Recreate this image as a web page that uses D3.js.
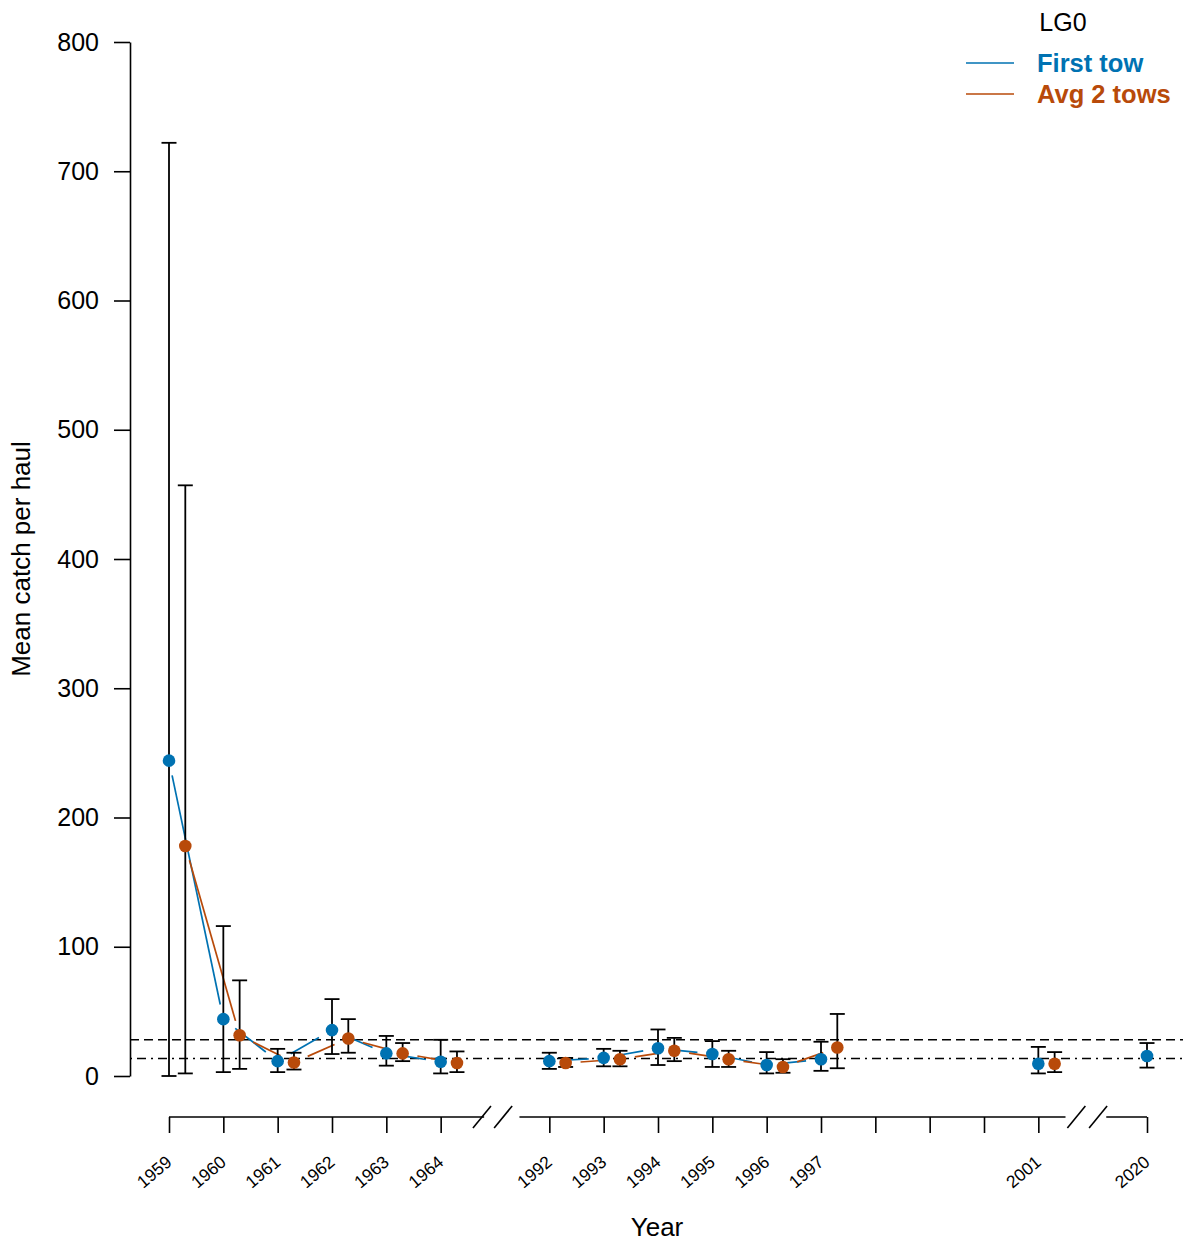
<!DOCTYPE html>
<html>
<head>
<meta charset="utf-8">
<script src="https://cdn.jsdelivr.net/npm/d3@7"></script>
<style>
  body { margin: 0; background: #fff; }
  svg text { font-family: Arial, "Liberation Sans", sans-serif; }
</style>
</head>
<body>
<div class="canvas"></div>
<script>
// data
const years = [1959, 1960, 1961, 1962, 1963, 1964, 1992, 1993, 1994, 1995, 1996, 1997, 2001, 2020];
// position of each year on the broken axis (0 = 1959)
const yearPos = [0, 1, 2, 3, 4, 5, 7, 8, 9, 10, 11, 12, 16, 18];
// groups of years joined by lines
const groups = [[0, 1, 2, 3, 4, 5], [6, 7, 8, 9, 10, 11], [12], [13]];

const firstTow   = [244, 44, 11.5, 35.5, 17.5, 11, 11.5, 14, 21.5, 17, 8.5, 13, 9.5, 15.5];
const firstTowLo = [0, 3, 3, 17, 8, 2, 5.5, 7.5, 8.5, 7, 2, 4, 2, 6.5];
const firstTowHi = [722, 116, 21, 59.5, 31, 28, 18, 21, 36, 27, 18.5, 26.5, 22.5, 25.5];

const avgTows   = [178, 31.5, 10.5, 29, 17.5, 10, 10, 13, 19.5, 13, 7, 22, 9.5, null];
const avgTowsLo = [2, 5.5, 5, 18, 11.5, 3, 7, 7.5, 11.5, 7, 2.5, 6, 3, null];
const avgTowsHi = [457, 74, 18, 44, 25.5, 19, 14, 19.5, 29.5, 19.5, 13, 48, 18.5, null];

const refLines = [28, 13.5];
const yTicks = [0, 100, 200, 300, 400, 500, 600, 700, 800];
// axis tick positions and labels (1998-2000 unlabeled)
const axisTicks = [0, 1, 2, 3, 4, 5, 7, 8, 9, 10, 11, 12, 13, 14, 15, 16, 18];
const axisLabels = ['1959', '1960', '1961', '1962', '1963', '1964', '1992', '1993', '1994', '1995', '1996', '1997', '', '', '', '2001', '2020'];

const blue = '#0072B2';
const orange = '#B84A0A';

const svg = d3.select('.canvas')
  .append('svg')
    .attr('width', 1183)
    .attr('height', 1243);

const x = d3.scaleLinear().domain([0, 18]).range([169, 1147]);
const y = d3.scaleLinear().domain([0, 800]).range([1076, 42]);

// y axis
const yAxis = svg.append('g')
  .attr('transform', 'translate(130,0)')
  .call(d3.axisLeft(y).tickValues(yTicks).tickSize(16).tickPadding(15).tickSizeOuter(0));
yAxis.select('.domain').attr('stroke-width', 1.6);
yAxis.selectAll('.tick line').attr('stroke-width', 1.6);
yAxis.selectAll('text').attr('font-size', 25).attr('fill', '#000');

svg.append('text')
  .attr('transform', `translate(30,${(y(0) + y(800)) / 2}) rotate(-90)`)
  .attr('text-anchor', 'middle')
  .attr('font-size', 26)
  .text('Mean catch per haul');

// x axis with breaks
const xAxis = svg.append('g')
  .attr('transform', 'translate(0,1117)')
  .call(d3.axisBottom(x).tickValues(axisTicks).tickSize(16).tickFormat('').tickSizeOuter(0));
xAxis.select('.domain').remove();
xAxis.selectAll('.tick line').attr('stroke-width', 1.6);

const segs = [[0, 5.8], [6.45, 16.5], [17.25, 18]];
svg.selectAll('.xseg')
  .data(segs)
  .enter().append('line')
    .attr('x1', d => x(d[0])).attr('x2', d => x(d[1]))
    .attr('y1', 1117).attr('y2', 1117)
    .attr('stroke', '#000').attr('stroke-width', 1.6);

// break marks
const breaks = [5.76, 6.15, 16.7, 17.1];
svg.selectAll('.brk')
  .data(breaks)
  .enter().append('line')
    .attr('x1', d => x(d) - 9).attr('x2', d => x(d) + 9)
    .attr('y1', 1128).attr('y2', 1106)
    .attr('stroke', '#000').attr('stroke-width', 1.6);

svg.selectAll('.xlab')
  .data(axisTicks)
  .enter().append('text')
    .attr('text-anchor', 'end')
    .attr('font-size', 17.5)
    .attr('transform', d => `translate(${x(d) + 4},${1164}) rotate(-40)`)
    .text((d, i) => axisLabels[i]);

svg.append('text')
  .attr('x', 657).attr('y', 1236)
  .attr('text-anchor', 'middle')
  .attr('font-size', 26)
  .text('Year');

// reference lines
svg.selectAll('.ref')
  .data(refLines)
  .enter().append('line')
    .attr('x1', 130).attr('x2', 1183)
    .attr('y1', d => y(d)).attr('y2', d => y(d))
    .attr('stroke', '#000').attr('stroke-width', 1.6)
    .attr('stroke-dasharray', (d, i) => i === 0 ? '9,5' : '2,5,9,5');

// lines with gaps around points (like type = "b")
const gap = 15;
function drawSeries(vals, offset, colour) {
  groups.forEach(g => {
    for (let k = 0; k < g.length - 1; k++) {
      const a = g[k], b = g[k + 1];
      if (vals[a] == null || vals[b] == null) continue;
      const x1 = x(yearPos[a] + offset), y1 = y(vals[a]);
      const x2 = x(yearPos[b] + offset), y2 = y(vals[b]);
      const len = Math.hypot(x2 - x1, y2 - y1);
      if (len <= 2 * gap) continue;
      const ux = (x2 - x1) / len, uy = (y2 - y1) / len;
      svg.append('line')
        .attr('x1', x1 + ux * gap).attr('y1', y1 + uy * gap)
        .attr('x2', x2 - ux * gap).attr('y2', y2 - uy * gap)
        .attr('stroke', colour).attr('stroke-width', 1.7);
    }
  });
}

function drawBars(vals, lo, hi, offset) {
  const idx = d3.range(vals.length).filter(i => vals[i] != null);
  const bars = svg.append('g');
  bars.selectAll('line.v')
    .data(idx)
    .enter().append('line')
      .attr('x1', i => x(yearPos[i] + offset)).attr('x2', i => x(yearPos[i] + offset))
      .attr('y1', i => y(lo[i])).attr('y2', i => y(hi[i]))
      .attr('stroke', '#000').attr('stroke-width', 1.8);
  [lo, hi].forEach(arr => {
    bars.selectAll(null)
      .data(idx)
      .enter().append('line')
        .attr('x1', i => x(yearPos[i] + offset) - 7.5).attr('x2', i => x(yearPos[i] + offset) + 7.5)
        .attr('y1', i => y(arr[i])).attr('y2', i => y(arr[i]))
        .attr('stroke', '#000').attr('stroke-width', 1.8);
  });
}

function drawPoints(vals, offset, colour) {
  const idx = d3.range(vals.length).filter(i => vals[i] != null);
  svg.append('g').selectAll('circle')
    .data(idx)
    .enter().append('circle')
      .attr('cx', i => x(yearPos[i] + offset))
      .attr('cy', i => y(vals[i]))
      .attr('r', 6.3)
      .attr('fill', colour);
}

drawSeries(firstTow, 0, blue);
drawSeries(avgTows, 0.3, orange);
drawBars(firstTow, firstTowLo, firstTowHi, 0);
drawBars(avgTows, avgTowsLo, avgTowsHi, 0.3);
drawPoints(firstTow, 0, blue);
drawPoints(avgTows, 0.3, orange);

// legend
svg.append('text')
  .attr('x', 1063).attr('y', 31)
  .attr('text-anchor', 'middle')
  .attr('font-size', 25)
  .text('LG0');

const legendItems = [['First tow', blue, 63], ['Avg 2 tows', orange, 94]];
legendItems.forEach(([label, colour, ly]) => {
  svg.append('line')
    .attr('x1', 966).attr('x2', 1014)
    .attr('y1', ly).attr('y2', ly)
    .attr('stroke', colour).attr('stroke-width', 1.7);
  svg.append('text')
    .attr('x', 1037).attr('y', ly + 9)
    .attr('font-size', 25.5)
    .attr('font-weight', 'bold')
    .attr('fill', colour)
    .text(label);
});
</script>
</body>
</html>
